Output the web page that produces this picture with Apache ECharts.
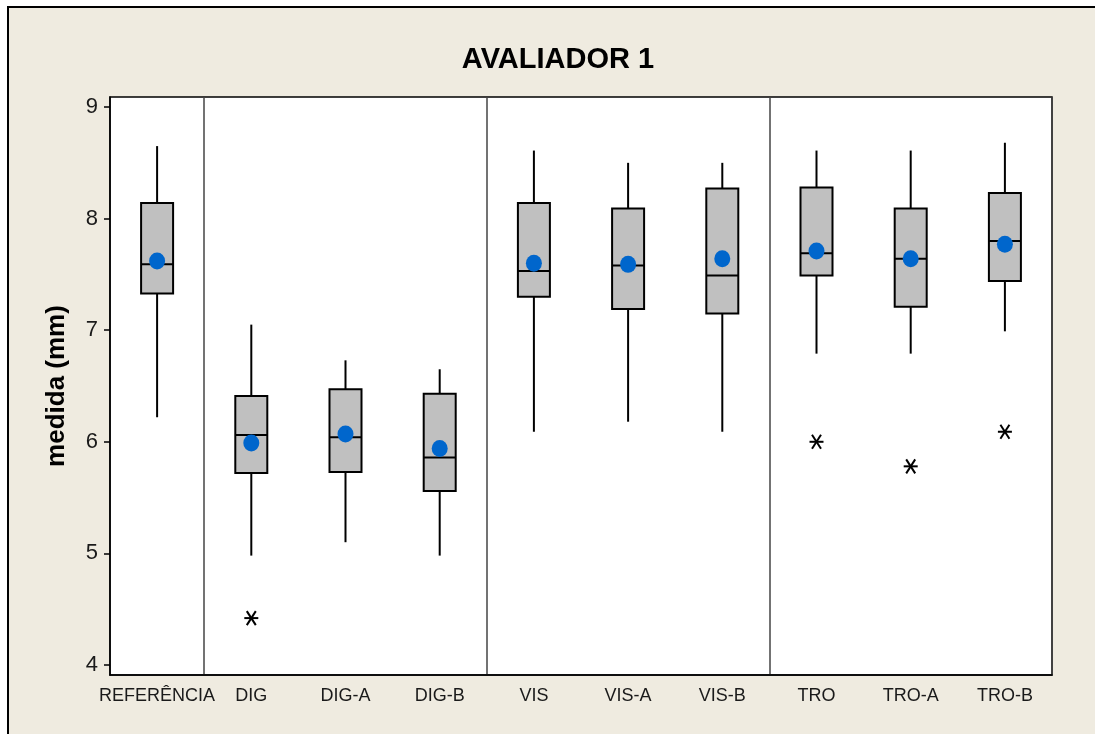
<!DOCTYPE html>
<html>
<head>
<meta charset="utf-8">
<script src="https://cdn.jsdelivr.net/npm/echarts@6/dist/echarts.min.js"></script>
<style>
  html, body { margin: 0; padding: 0; background: #fff; }
  #main { width: 1095px; height: 734px; }
</style>
</head>
<body>
<div id="main"></div>
<script>
var categories = ['REFERÊNCIA', 'DIG', 'DIG-A', 'DIG-B', 'VIS', 'VIS-A', 'VIS-B', 'TRO', 'TRO-A', 'TRO-B'];
var whiskerLow  = [6.22, 4.98, 5.10, 4.98, 6.09, 6.18, 6.09, 6.79, 6.79, 6.99];
var q1          = [7.33, 5.72, 5.73, 5.56, 7.30, 7.19, 7.15, 7.49, 7.21, 7.44];
var medians     = [7.59, 6.06, 6.04, 5.86, 7.53, 7.58, 7.49, 7.69, 7.64, 7.80];
var q3          = [8.14, 6.41, 6.47, 6.43, 8.14, 8.09, 8.27, 8.28, 8.09, 8.23];
var whiskerHigh = [8.65, 7.05, 6.73, 6.65, 8.61, 8.50, 8.50, 8.61, 8.61, 8.68];
var means       = [7.62, 5.99, 6.07, 5.94, 7.60, 7.59, 7.64, 7.71, 7.64, 7.77];
var outlierCats   = ['DIG', 'TRO', 'TRO-A', 'TRO-B'];
var outlierValues = [4.42, 6.00, 5.78, 6.09];
var yTicks = [4, 5, 6, 7, 8, 9];
// group separators sit to the left of these categories
var groupStarts = [1, 4, 7];

var myChart = echarts.init(document.getElementById('main'));

var boxData = categories.map(function (c, i) {
    return [i, whiskerLow[i], q1[i], medians[i], q3[i], whiskerHigh[i]];
});
var outlierData = outlierCats.map(function (c, i) {
    return [categories.indexOf(c), outlierValues[i]];
});

function renderBox(params, api) {
    var i = api.value(0);
    var low = api.coord([i, api.value(1)]);
    var b1 = api.coord([i, api.value(2)]);
    var med = api.coord([i, api.value(3)]);
    var b3 = api.coord([i, api.value(4)]);
    var high = api.coord([i, api.value(5)]);
    var x = low[0];
    var hw = 16;
    var line = { stroke: '#000', lineWidth: 2 };
    return {
        type: 'group',
        children: [
            { type: 'line', shape: { x1: x, y1: low[1], x2: x, y2: b1[1] }, style: line },
            { type: 'line', shape: { x1: x, y1: b3[1], x2: x, y2: high[1] }, style: line },
            {
                type: 'rect',
                shape: { x: x - hw, y: b3[1], width: hw * 2, height: b1[1] - b3[1] },
                style: { fill: '#C0C0C0', stroke: '#000', lineWidth: 2 }
            },
            { type: 'line', shape: { x1: x - hw, y1: med[1], x2: x + hw, y2: med[1] }, style: line }
        ]
    };
}

function renderStar(params, api) {
    var p = api.coord([api.value(0), api.value(1)]);
    var s = { stroke: '#000', lineWidth: 2 };
    return {
        type: 'group',
        children: [
            { type: 'line', shape: { x1: p[0] - 7, y1: p[1], x2: p[0] + 7, y2: p[1] }, style: s },
            { type: 'line', shape: { x1: p[0] - 4.5, y1: p[1] - 7, x2: p[0] + 4.5, y2: p[1] + 7 }, style: s },
            { type: 'line', shape: { x1: p[0] - 4.5, y1: p[1] + 7, x2: p[0] + 4.5, y2: p[1] - 7 }, style: s }
        ]
    };
}

var option = {
    backgroundColor: '#fff',
    animation: false,
    graphic: [
        {
            type: 'rect',
            z: -10,
            shape: { x: 8, y: 7, width: 1110, height: 750 },
            style: { fill: '#EFEBE0', stroke: '#000', lineWidth: 2 }
        }
    ],
    title: {
        text: 'AVALIADOR 1',
        left: 553,
        top: 40,
        textAlign: 'center',
        textStyle: {
            fontFamily: 'Liberation Sans',
            fontWeight: 'bold',
            fontSize: 29,
            color: '#000'
        }
    },
    grid: {
        left: 110,
        top: 97,
        right: 43,
        bottom: 59,
        show: true,
        backgroundColor: '#fff',
        borderColor: '#000',
        borderWidth: 1.5
    },
    xAxis: {
        type: 'category',
        data: categories,
        boundaryGap: true,
        axisLine: { lineStyle: { color: '#000', width: 1.5 } },
        axisTick: { alignWithLabel: true, length: 6, lineStyle: { color: '#000', width: 1.5 } },
        axisLabel: {
            interval: 0,
            margin: 12,
            fontFamily: 'Liberation Sans',
            fontSize: 18,
            color: '#1a1a1a'
        },
        splitLine: {
            show: true,
            interval: function (index) {
                return groupStarts.indexOf(index) >= 0;
            },
            lineStyle: { color: '#444', width: 1.5 }
        }
    },
    yAxis: {
        type: 'value',
        min: 3.91,
        max: 9.09,
        name: 'medida (mm)',
        nameLocation: 'middle',
        nameRotate: 90,
        nameGap: 40,
        nameTextStyle: {
            fontFamily: 'Liberation Sans',
            fontWeight: 'bold',
            fontSize: 26,
            color: '#000'
        },
        axisLine: { show: true, lineStyle: { color: '#000', width: 1.5 } },
        axisTick: { show: true, length: 6, customValues: yTicks, lineStyle: { color: '#000', width: 1.5 } },
        axisLabel: {
            customValues: yTicks,
            margin: 12,
            fontFamily: 'Liberation Sans',
            fontSize: 22,
            color: '#1a1a1a'
        },
        splitLine: { show: false }
    },
    series: [
        {
            type: 'custom',
            renderItem: renderBox,
            data: boxData,
            z: 2
        },
        {
            type: 'custom',
            renderItem: renderStar,
            data: outlierData,
            z: 2
        },
        {
            type: 'scatter',
            data: means,
            symbol: 'circle',
            symbolSize: [16, 17],
            itemStyle: { color: '#0066CC', opacity: 1 },
            z: 3
        }
    ]
};

myChart.setOption(option);
</script>
</body>
</html>
